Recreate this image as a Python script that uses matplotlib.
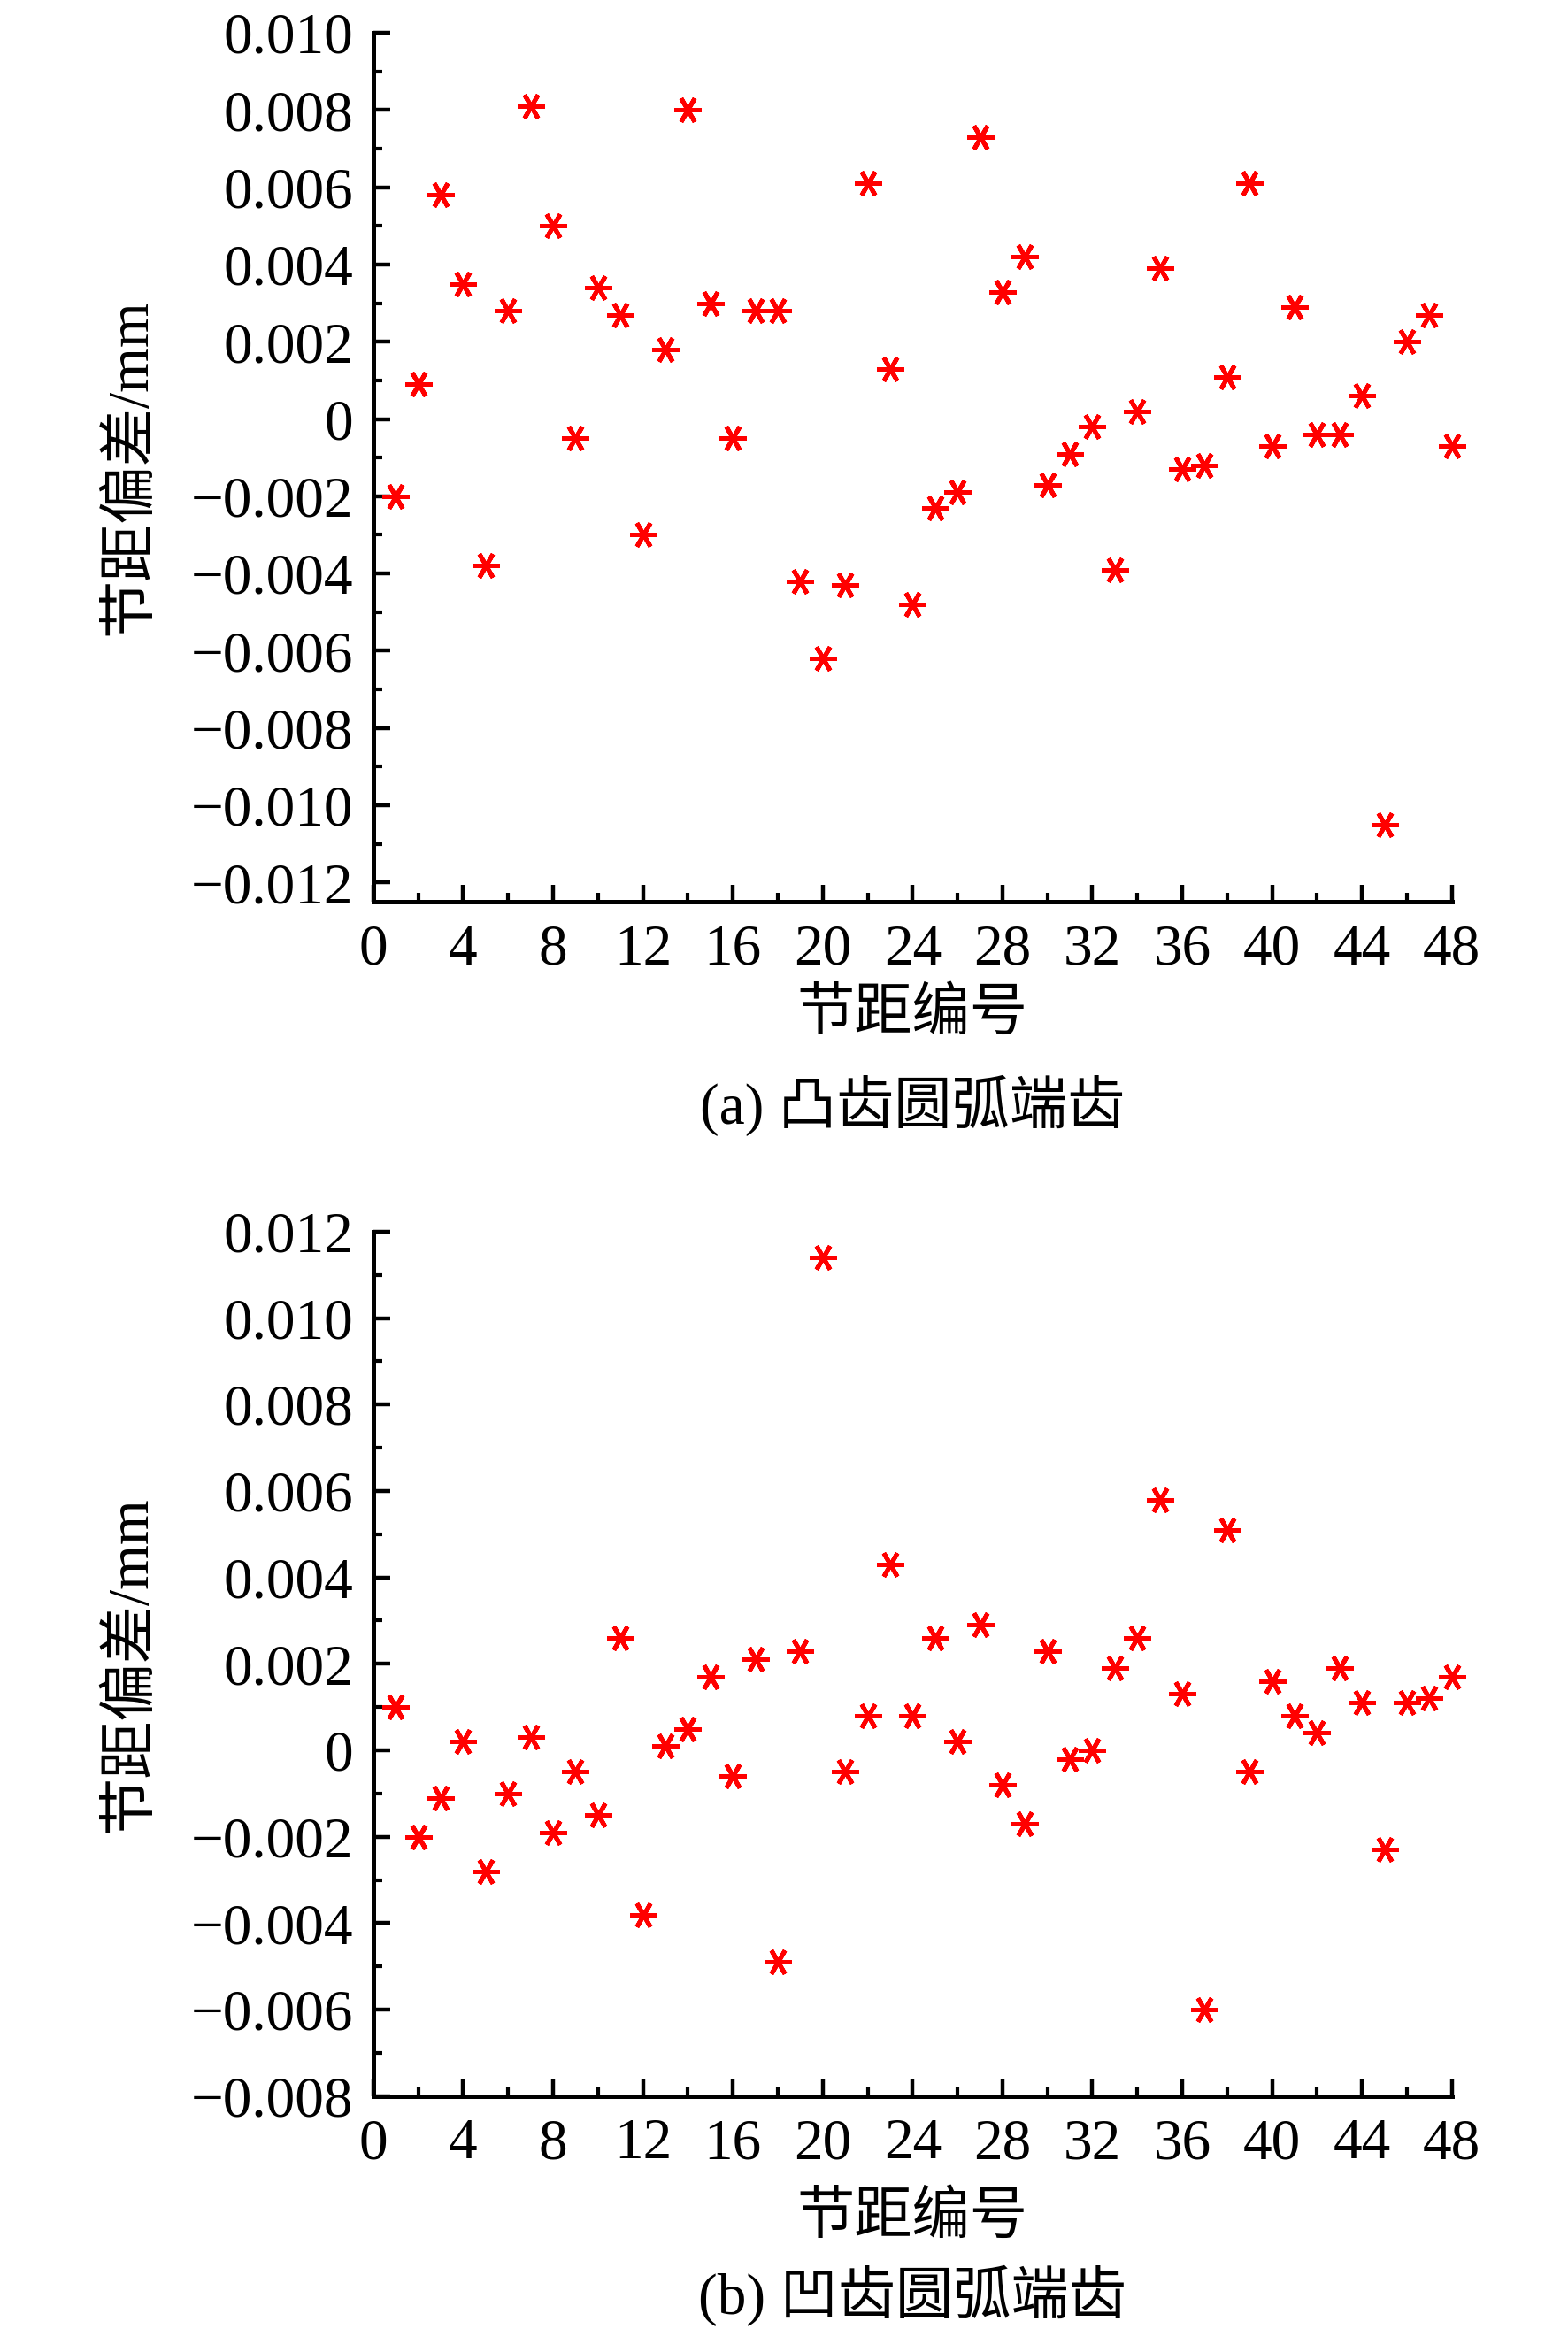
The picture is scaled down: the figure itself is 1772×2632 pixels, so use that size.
import matplotlib
matplotlib.use("Agg")
import matplotlib.pyplot as plt
from matplotlib.ticker import MultipleLocator, FuncFormatter

plt.rcParams["font.family"] = ["Liberation Serif", "Noto Sans CJK SC", "DejaVu Sans"]

pitch_no = list(range(1, 49))

# (a) 凸齿圆弧端齿
dev_convex = [
    -0.0020, 0.0009, 0.0058, 0.0035, -0.0038, 0.0028, 0.0081, 0.0050,
    -0.0005, 0.0034, 0.0027, -0.0030, 0.0018, 0.0080, 0.0030, -0.0005,
    0.0028, 0.0028, -0.0042, -0.0062, -0.0043, 0.0061, 0.0013, -0.0048,
    -0.0023, -0.0019, 0.0073, 0.0033, 0.0042, -0.0017, -0.0009, -0.0002,
    -0.0039, 0.0002, 0.0039, -0.0013, -0.0012, 0.0011, 0.0061, -0.0007,
    0.0029, -0.0004, -0.0004, 0.0006, -0.0105, 0.0020, 0.0027, -0.0007,
]

# (b) 凹齿圆弧端齿
dev_concave = [
    0.0010, -0.0020, -0.0011, 0.0002, -0.0028, -0.0010, 0.0003, -0.0019,
    -0.0005, -0.0015, 0.0026, -0.0038, 0.0001, 0.0005, 0.0017, -0.0006,
    0.0021, -0.0049, 0.0023, 0.0114, -0.0005, 0.0008, 0.0043, 0.0008,
    0.0026, 0.0002, 0.0029, -0.0008, -0.0017, 0.0023, -0.0002, 0.0000,
    0.0019, 0.0026, 0.0058, 0.0013, -0.0060, 0.0051, -0.0005, 0.0016,
    0.0008, 0.0004, 0.0019, 0.0011, -0.0023, 0.0011, 0.0012, 0.0017,
]

panels = [
    (dev_convex, (-0.0125, 0.010), "(a) 凸齿圆弧端齿"),
    (dev_concave, (-0.008, 0.012), "(b) 凹齿圆弧端齿"),
]

FS = 47


def fmt_y(v, _):
    if abs(v) < 1e-12:
        return "0"
    return f"{v:.3f}".replace("-", "\u2212")


fig = plt.figure(figsize=(17.72, 26.32), dpi=100)
boxes = [[0.238, 0.6128, 0.688, 0.3731], [0.238, 0.1000, 0.688, 0.3712]]
xlabel_y = [1 - 1148 / 2632, 1 - 2508 / 2632]
caption_y = [1 - 1249 / 2632, 1 - 2594 / 2632]

for i, (vals, ylim, caption) in enumerate(panels):
    ax = fig.add_axes(boxes[i])
    ax.plot(pitch_no, vals, linestyle="none", marker=(6, 2, 90), markersize=22,
            markeredgewidth=3.6, color="#ff0000", clip_on=False)

    ax.set_xlim(0, 48)
    ax.set_ylim(*ylim)
    ax.xaxis.set_major_locator(MultipleLocator(4))
    ax.xaxis.set_minor_locator(MultipleLocator(2))
    ax.yaxis.set_major_locator(MultipleLocator(0.002))
    ax.yaxis.set_minor_locator(MultipleLocator(0.001))
    ax.yaxis.set_major_formatter(FuncFormatter(fmt_y))

    for side in ("top", "right"):
        ax.spines[side].set_visible(False)
    for side in ("left", "bottom"):
        ax.spines[side].set_linewidth(3.6)

    ax.tick_params(which="major", direction="in", length=14, width=3.2,
                   labelsize=FS, pad=16)
    ax.tick_params(which="minor", direction="in", length=7, width=3.0)
    ax.tick_params(axis="x", which="major", pad=18)

    ax.set_ylabel("节距偏差/mm", fontsize=FS)
    ax.yaxis.set_label_coords(-0.200, 0.5)

    fig.text(0.582, xlabel_y[i], "节距编号", fontsize=FS, ha="center", va="center")
    fig.text(0.582, caption_y[i], caption, fontsize=FS, ha="center", va="center")

fig.savefig("out.png", dpi=100)
